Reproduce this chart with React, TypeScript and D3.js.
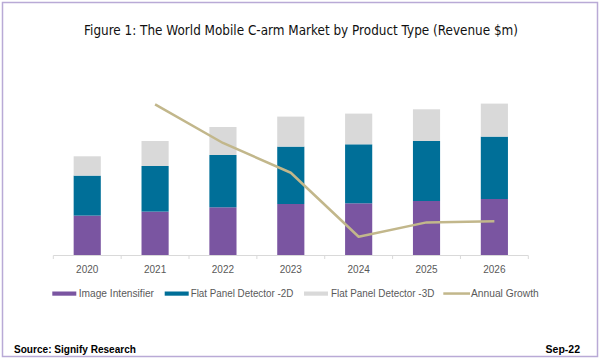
import { useEffect, useRef } from "react";
import * as d3 from "d3";

const YEARS = ["2020", "2021", "2022", "2023", "2024", "2025", "2026"];
const IMAGE_INTENSIFIER = [394, 434, 477, 510, 517, 540, 560];
const FPD_2D = [400, 456, 523, 574, 590, 600, 624];
const FPD_3D = [193, 250, 280, 300, 307, 317, 330];
const GROWTH_YEARS = ["2021", "2022", "2023", "2024", "2025", "2026"];
const ANNUAL_GROWTH = [14.0, 10.5, 7.8, 2.0, 3.3, 3.4];

const SERIES = ["Image Intensifier", "Flat Panel Detector -2D", "Flat Panel Detector -3D"];
const COLORS = ["#7a55a1", "#006f98", "#d9d9d9"];
const LINE_COLOR = "#c2b78b";

export default function App() {
  const ref = useRef<HTMLDivElement>(null);

  useEffect(() => {
    if (!ref.current) return;
    const container = ref.current;
    d3.select(container).select("svg").remove();

    const width = 600;
    const height = 359;
    const font = "'Liberation Sans', Arial, sans-serif";

    const rows = YEARS.map((yr, i) => ({
      year: yr,
      [SERIES[0]]: IMAGE_INTENSIFIER[i],
      [SERIES[1]]: FPD_2D[i],
      [SERIES[2]]: FPD_3D[i],
    }));
    const stacked = d3.stack<any>().keys(SERIES)(rows);

    const x = d3.scaleBand()
      .domain(YEARS)
      .range([53.3, 528.3])
      .paddingInner(0.6)
      .paddingOuter(0.3);

    const y = d3.scaleLinear().domain([0, 1600]).range([255, 95]);
    const y2 = d3.scaleLinear().domain([0, 16]).range([258.8, 82.3]);

    const svg = d3.create("svg")
      .attr("width", width)
      .attr("height", height)
      .attr("viewBox", [0, 0, width, height])
      .style("display", "block")
      .style("background", "#fff");

    svg.append("rect")
      .attr("x", 2.5).attr("y", 2.5)
      .attr("width", 595).attr("height", 354)
      .attr("fill", "none")
      .attr("stroke", "#b9aad6")
      .attr("stroke-width", 1.5);

    svg.append("text")
      .attr("x", 301).attr("y", 35)
      .attr("text-anchor", "middle")
      .attr("font-family", "Tahoma, 'DejaVu Sans', sans-serif")
      .attr("font-size", 14)
      .attr("fill", "#111")
      .attr("textLength", 434)
      .attr("lengthAdjust", "spacingAndGlyphs")
      .text("Figure 1: The World Mobile C-arm Market by Product Type (Revenue $m)");

    // bars
    svg.append("g")
      .selectAll("g")
      .data(stacked)
      .join("g")
        .attr("fill", (_, i) => COLORS[i])
      .selectAll("rect")
      .data(d => d)
      .join("rect")
        .attr("x", d => x(d.data.year)!)
        .attr("width", x.bandwidth())
        .attr("y", d => y(d[1]))
        .attr("height", d => y(d[0]) - y(d[1]));

    // category axis
    const [r0, r1] = x.range();
    const axis = svg.append("g").attr("stroke", "#d9d9d9").attr("stroke-width", 1);
    axis.append("line")
      .attr("x1", r0).attr("x2", r1)
      .attr("y1", 255.5).attr("y2", 255.5);
    axis.selectAll("line.tick")
      .data(d3.range(YEARS.length + 1))
      .join("line")
        .attr("class", "tick")
        .attr("x1", i => r0 + i * x.step())
        .attr("x2", i => r0 + i * x.step())
        .attr("y1", 255.5).attr("y2", 259);

    svg.append("g")
      .attr("font-family", font)
      .attr("font-size", 10)
      .attr("fill", "#595959")
      .attr("text-anchor", "middle")
      .selectAll("text")
      .data(YEARS)
      .join("text")
        .attr("x", d => x(d)! + x.bandwidth() / 2)
        .attr("y", 273)
        .text(d => d);

    // growth line
    const line = d3.line<number>()
      .x((_, i) => x(GROWTH_YEARS[i])! + x.bandwidth() / 2)
      .y(d => y2(d));
    svg.append("path")
      .datum(ANNUAL_GROWTH)
      .attr("fill", "none")
      .attr("stroke", LINE_COLOR)
      .attr("stroke-width", 2.5)
      .attr("stroke-linejoin", "round")
      .attr("d", line);

    // legend
    const legend = [
      { label: SERIES[0], color: COLORS[0], sx: 52.3, tx: 78.7, tw: 75.3, line: false },
      { label: SERIES[1], color: COLORS[1], sx: 164.7, tx: 190.7, tw: 102.6, line: false },
      { label: SERIES[2], color: COLORS[2], sx: 304, tx: 331, tw: 103.3, line: false },
      { label: "Annual Growth", color: LINE_COLOR, sx: 443.3, tx: 471, tw: 67.7, line: true },
    ];
    const lg = svg.append("g");
    lg.selectAll("rect")
      .data(legend)
      .join("rect")
        .attr("x", d => d.sx)
        .attr("y", d => d.line ? 292.3 : 291.5)
        .attr("width", d => d.line ? 26.7 : 24)
        .attr("height", d => d.line ? 2.5 : 4.2)
        .attr("fill", d => d.color);
    lg.selectAll("text")
      .data(legend)
      .join("text")
        .attr("x", d => d.tx)
        .attr("y", 297.3)
        .attr("font-family", font)
        .attr("font-size", 10.5)
        .attr("fill", "#595959")
        .attr("textLength", d => d.tw)
        .attr("lengthAdjust", "spacingAndGlyphs")
        .text(d => d.label);

    svg.append("text")
      .attr("x", 14).attr("y", 353)
      .attr("font-family", font)
      .attr("font-size", 10.5)
      .attr("font-weight", "bold")
      .attr("fill", "#000")
      .attr("textLength", 122)
      .attr("lengthAdjust", "spacingAndGlyphs")
      .text("Source: Signify Research");

    svg.append("text")
      .attr("x", 580).attr("y", 353)
      .attr("text-anchor", "end")
      .attr("font-family", font)
      .attr("font-size", 10.5)
      .attr("font-weight", "bold")
      .attr("fill", "#000")
      .text("Sep-22");

    container.append(svg.node()!);
  }, []);

  return (
    <>
      <style>{"body{margin:0}"}</style>
      <div ref={ref} />
    </>
  );
}
